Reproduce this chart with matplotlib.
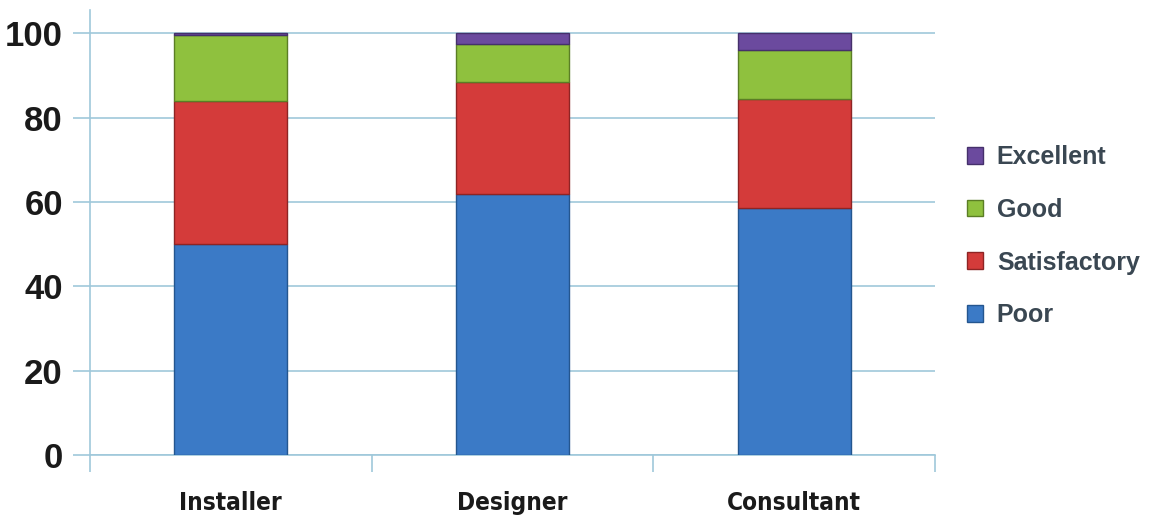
import matplotlib
matplotlib.use("Agg")
import matplotlib.pyplot as plt
import numpy as np
from matplotlib.patches import Patch

categories = ["Installer", "Designer", "Consultant"]
ratings = ["Poor", "Satisfactory", "Good", "Excellent"]
poor = [50, 62, 58.5]
satisfactory = [34, 26.5, 26]
good = [15.5, 9, 11.5]
excellent = [0.5, 2.5, 4]
yticks = [0, 20, 40, 60, 80, 100]

colors = ["#3b7ac6", "#d43b3a", "#8fc13e", "#6b4a9e"]
edges = ["#24568f", "#8e2424", "#5b7e25", "#45306b"]

fig = plt.figure(figsize=(11.53, 5.19), dpi=100)
ax = fig.add_axes([0.078, 0.123, 0.733, 0.857])

x = np.arange(len(categories))
bottom = np.zeros(len(categories))
for vals, c, e in zip([poor, satisfactory, good, excellent], colors, edges):
    ax.bar(x, vals, width=0.40, bottom=bottom, color=c, edgecolor=e,
           linewidth=1.0, zorder=3)
    bottom += np.array(vals)

ax.set_xlim(-0.5, 2.5)
ax.set_ylim(0, 105.4)

grid_c = "#9fc8da"
ax.set_yticks(yticks)
ax.set_yticklabels([str(v) for v in yticks], fontsize=25, fontweight="bold",
                   color="#1a1a1a", family=["Liberation Sans", "DejaVu Sans"])
ax.yaxis.grid(True, color=grid_c, linewidth=1.2, zorder=0)
ax.tick_params(axis="y", length=12, width=1.2, color=grid_c, pad=7.5)

ax.set_xticks([-0.5, 0.5, 1.5, 2.5])
ax.set_xticklabels([])
ax.tick_params(axis="x", which="major", length=12, width=1.2, color=grid_c)
ax.set_xticks(x, minor=True)
ax.set_xticklabels(categories, minor=True, fontsize=17.5, fontweight="bold",
                   color="#1a1a1a", family="DejaVu Sans", fontstretch="condensed")
ax.tick_params(axis="x", which="minor", length=0, pad=26)

for s in ["top", "right"]:
    ax.spines[s].set_visible(False)
for s in ["left", "bottom"]:
    ax.spines[s].set_color(grid_c)
    ax.spines[s].set_linewidth(1.2)

handles = [Patch(facecolor=c, edgecolor=e, label=r)
           for r, c, e in zip(ratings, colors, edges)][::-1]
fig.legend(handles=handles, loc="center left", bbox_to_anchor=(0.819, 0.545),
           frameon=False, handlelength=0.65, handleheight=0.65,
           handletextpad=0.55, labelspacing=1.15,
           prop={"family": ["Liberation Sans", "DejaVu Sans"],
                 "weight": "bold", "size": 18},
           labelcolor="#3a4752")

fig.savefig("out.png", dpi=100)
